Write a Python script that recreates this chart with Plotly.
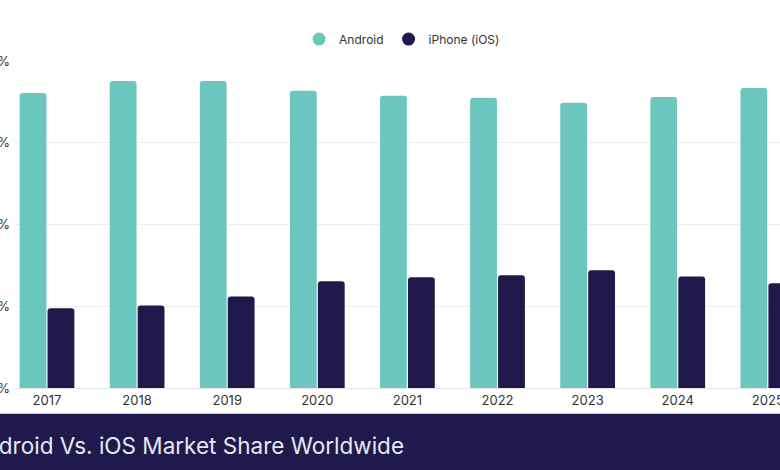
import plotly.graph_objects as go

# values (percent of worldwide mobile OS share)
years = ["2017", "2018", "2019", "2020", "2021", "2022", "2023", "2024", "2025"]
android = [72.2, 75.1, 75.1, 72.7, 71.5, 71.0, 69.8, 71.2, 73.4]
ios = [19.5, 20.2, 22.4, 26.1, 27.1, 27.6, 28.8, 27.3, 25.6]
y_ticks = [0, 20, 40, 60, 80]
y_labels = [f"{v}%" for v in y_ticks]

teal = "#6cc6be"
navy = "#1f1a4b"
font = "Inter, Roboto, sans-serif"

fig = go.Figure()

fig.add_trace(go.Bar(x=years, y=android, name="Android", marker_color=teal,
                     marker_cornerradius=3, showlegend=False))
fig.add_trace(go.Bar(x=years, y=ios, name="iPhone (iOS)", marker_color=navy,
                     marker_cornerradius=3, showlegend=False))

# legend entries with round markers
fig.add_trace(go.Scatter(x=[None], y=[None], mode="markers", name="Android",
                         marker=dict(color=teal, size=13, symbol="circle")))
fig.add_trace(go.Scatter(x=[None], y=[None], mode="markers", name="iPhone (iOS)",
                         marker=dict(color=navy, size=13, symbol="circle")))

fig.update_layout(
    width=780, height=470,
    template="none",
    margin=dict(l=15, r=0, t=61, b=82),
    paper_bgcolor="white", plot_bgcolor="white",
    font=dict(family=font, size=13, color="#333333"),
    barmode="group", bargap=0.38, bargroupgap=0.04,
    showlegend=True,
    legend=dict(orientation="h", x=0.506, xanchor="center", y=1.067, yanchor="middle",
                font=dict(size=12, color="#333333"), itemwidth=30, traceorder="normal"),
    xaxis=dict(type="category", range=[-0.355, 8.135], automargin=False,
               showgrid=False, showline=True, linecolor="#e6e6e6", linewidth=1,
               ticks="", tickfont=dict(size=13, color="#333333")),
    yaxis=dict(range=[0, 80], tickmode="array", tickvals=y_ticks, ticktext=y_labels,
               automargin=False, showgrid=True, gridcolor="#eeeeee", gridwidth=1,
               zeroline=False, showline=False, ticks="", ticklabelstandoff=4,
               tickfont=dict(size=13, color="#333333")),
)

# dark banner with the chart title, cut off at the left as in the source crop
fig.add_shape(type="rect", xref="paper", yref="paper",
              x0=-0.05, x1=1.05, y0=-0.251, y1=-0.079,
              fillcolor=navy, line_width=0, layer="above")
fig.add_annotation(text="Android Vs. iOS Market Share Worldwide",
                   xref="paper", yref="paper", x=-0.061, y=-0.175,
                   xanchor="left", yanchor="middle", showarrow=False,
                   font=dict(family=font, size=22.5, color="#e8e8f0"))

# page margin off so the figure sits at the window's top-left corner
fig.write_html("out.html", config={"displayModeBar": False},
               post_script="document.body.style.margin='0';")
